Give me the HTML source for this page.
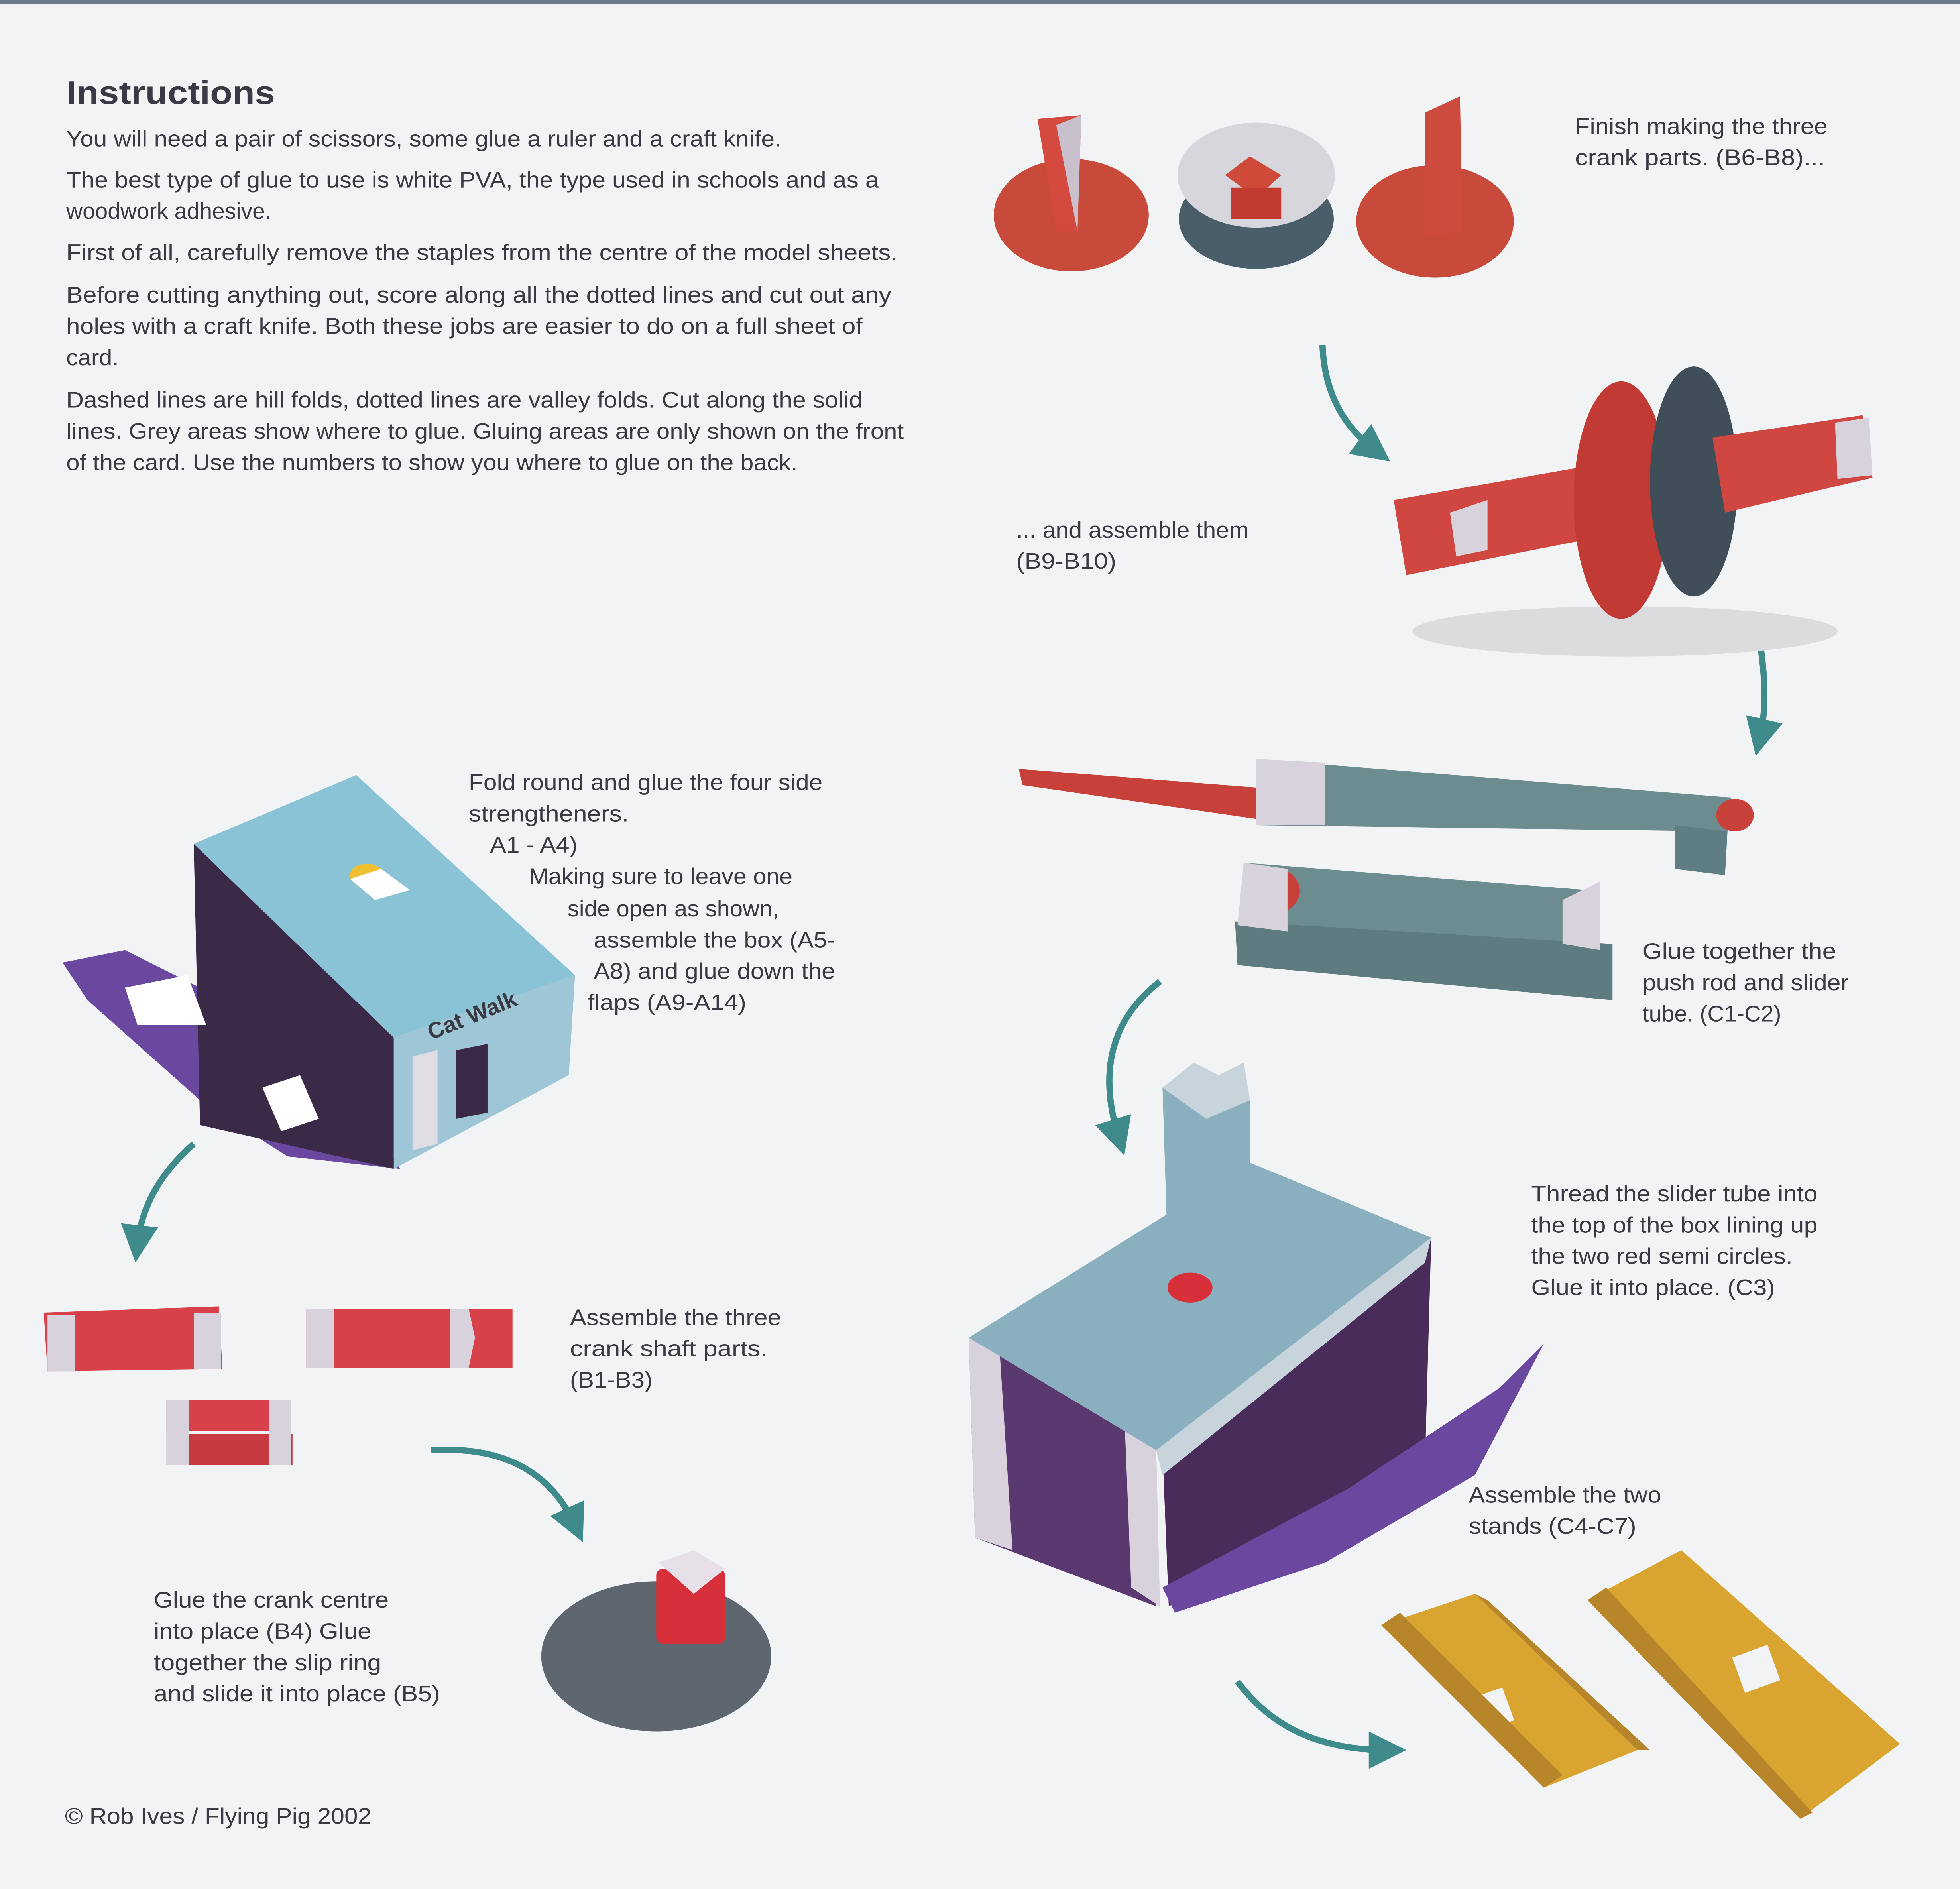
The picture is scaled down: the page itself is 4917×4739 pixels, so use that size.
<!DOCTYPE html>
<html><head><meta charset="utf-8">
<style>
html,body{margin:0;padding:0;background:#f2f3f5;}
svg{display:block}
text{font-family:"Liberation Sans",sans-serif;fill:#3a3a44;}
</style></head>
<body>
<svg width="4917" height="4739" viewBox="0 0 1568 1511" xmlns="http://www.w3.org/2000/svg">
<defs>
<marker id="ah" markerWidth="6" markerHeight="6" refX="3" refY="3" orient="auto" markerUnits="strokeWidth">
<path d="M0,0 L6,3 L0,6 Z" fill="#3f8b8c"/></marker>
</defs>
<rect width="1568" height="1511" fill="#f2f3f5"/>
<rect x="0" y="0" width="1568" height="3" fill="#6b7a8a"/>

<text x="53" y="83" font-size="26" font-weight="bold" fill="#2a2a30" textLength="167" lengthAdjust="spacingAndGlyphs">Instructions</text>
<g font-size="18" lengthAdjust="spacingAndGlyphs">
<text x="53" y="117" textLength="572" lengthAdjust="spacingAndGlyphs">You will need a pair of scissors, some glue a ruler and a craft knife.</text>
<text x="53" y="150" textLength="650" lengthAdjust="spacingAndGlyphs">The best type of glue to use is white PVA, the type used in schools and as a</text>
<text x="53" y="175" textLength="164" lengthAdjust="spacingAndGlyphs">woodwork adhesive.</text>
<text x="53" y="208" textLength="665" lengthAdjust="spacingAndGlyphs">First of all, carefully remove the staples from the centre of the model sheets.</text>
<text x="53" y="242" textLength="660" lengthAdjust="spacingAndGlyphs">Before cutting anything out, score along all the dotted lines and cut out any</text>
<text x="53" y="267" textLength="637" lengthAdjust="spacingAndGlyphs">holes with a craft knife. Both these jobs are easier to do on a full sheet of</text>
<text x="53" y="292" textLength="42" lengthAdjust="spacingAndGlyphs">card.</text>
<text x="53" y="326" textLength="637" lengthAdjust="spacingAndGlyphs">Dashed lines are hill folds, dotted lines are valley folds. Cut along the solid</text>
<text x="53" y="351" textLength="670" lengthAdjust="spacingAndGlyphs">lines. Grey areas show where to glue. Gluing areas are only shown on the front</text>
<text x="53" y="376" textLength="585" lengthAdjust="spacingAndGlyphs">of the card. Use the numbers to show you where to glue on the back.</text>

<text x="1260" y="107" textLength="202" lengthAdjust="spacingAndGlyphs">Finish making the three</text>
<text x="1260" y="132" textLength="200" lengthAdjust="spacingAndGlyphs">crank parts. (B6-B8)...</text>
<text x="813" y="430" textLength="186" lengthAdjust="spacingAndGlyphs">... and assemble them</text>
<text x="813" y="455" textLength="80" lengthAdjust="spacingAndGlyphs">(B9-B10)</text>
<text x="375" y="632" textLength="283" lengthAdjust="spacingAndGlyphs">Fold round and glue the four side</text>
<text x="375" y="657" textLength="128" lengthAdjust="spacingAndGlyphs">strengtheners.</text>
<text x="392" y="682" textLength="70" lengthAdjust="spacingAndGlyphs">A1 - A4)</text>
<text x="423" y="707" textLength="211" lengthAdjust="spacingAndGlyphs">Making sure to leave one</text>
<text x="454" y="733" textLength="169" lengthAdjust="spacingAndGlyphs">side open as shown,</text>
<text x="475" y="758" textLength="193" lengthAdjust="spacingAndGlyphs">assemble the box (A5-</text>
<text x="475" y="783" textLength="193" lengthAdjust="spacingAndGlyphs">A8) and glue down the</text>
<text x="470" y="808" textLength="127" lengthAdjust="spacingAndGlyphs">flaps (A9-A14)</text>
<text x="1314" y="767" textLength="155" lengthAdjust="spacingAndGlyphs">Glue together the</text>
<text x="1314" y="792" textLength="165" lengthAdjust="spacingAndGlyphs">push rod and slider</text>
<text x="1314" y="817" textLength="111" lengthAdjust="spacingAndGlyphs">tube. (C1-C2)</text>
<text x="1225" y="961" textLength="229" lengthAdjust="spacingAndGlyphs">Thread the slider tube into</text>
<text x="1225" y="986" textLength="229" lengthAdjust="spacingAndGlyphs">the top of the box lining up</text>
<text x="1225" y="1011" textLength="209" lengthAdjust="spacingAndGlyphs">the two red semi circles.</text>
<text x="1225" y="1036" textLength="195" lengthAdjust="spacingAndGlyphs">Glue it into place. (C3)</text>
<text x="456" y="1060" textLength="169" lengthAdjust="spacingAndGlyphs">Assemble the three</text>
<text x="456" y="1085" textLength="158" lengthAdjust="spacingAndGlyphs">crank shaft parts.</text>
<text x="456" y="1110" textLength="66" lengthAdjust="spacingAndGlyphs">(B1-B3)</text>
<text x="1175" y="1202" textLength="154" lengthAdjust="spacingAndGlyphs">Assemble the two</text>
<text x="1175" y="1227" textLength="134" lengthAdjust="spacingAndGlyphs">stands (C4-C7)</text>
<text x="123" y="1286" textLength="188" lengthAdjust="spacingAndGlyphs">Glue the crank centre</text>
<text x="123" y="1311" textLength="174" lengthAdjust="spacingAndGlyphs">into place (B4) Glue</text>
<text x="123" y="1336" textLength="182" lengthAdjust="spacingAndGlyphs">together the slip ring</text>
<text x="123" y="1361" textLength="229" lengthAdjust="spacingAndGlyphs">and slide it into place (B5)</text>
<text x="52" y="1459" textLength="245" lengthAdjust="spacingAndGlyphs">© Rob Ives / Flying Pig 2002</text>
</g>

<g fill="none" stroke="#3f8b8c" stroke-width="5" marker-end="url(#ah)">
<path d="M1058,276 Q1060,330 1100,360"/>
<path d="M1408,514 Q1415,560 1408,590"/>
<path d="M928,785 Q870,830 895,910"/>
<path d="M155,915 Q115,950 110,995"/>
<path d="M345,1160 Q430,1155 460,1220"/>
<path d="M990,1345 Q1030,1400 1110,1400"/>
</g>

<ellipse cx="857" cy="172" rx="62" ry="45" fill="#c84a3a"/>
<polygon points="830,95 865,92 862,185 845,185" fill="#d44a3e"/>
<polygon points="845,100 865,92 862,185" fill="#c8c0cc"/>
<ellipse cx="1005" cy="175" rx="62" ry="40" fill="#4a5e6a"/>
<ellipse cx="1005" cy="140" rx="63" ry="42" fill="#d6d6dc"/>
<polygon points="980,140 1000,125 1025,140 1005,158" fill="#d04a3a"/>
<rect x="985" y="150" width="40" height="25" fill="#c33a30"/>
<ellipse cx="1148" cy="177" rx="63" ry="45" fill="#c84a3a"/>
<polygon points="1140,90 1168,77 1170,185 1140,190" fill="#cc4a3e"/>

<ellipse cx="1300" cy="505" rx="170" ry="20" fill="#dcdcde"/>
<polygon points="1115,400 1370,355 1378,410 1125,460" fill="#d04640"/>
<ellipse cx="1297" cy="400" rx="38" ry="95" fill="#c13a34"/>
<ellipse cx="1355" cy="385" rx="35" ry="92" fill="#3f4e58"/>
<polygon points="1370,350 1490,332 1498,382 1380,410" fill="#d04640"/>
<polygon points="1468,338 1495,334 1498,380 1470,383" fill="#d8d2dc"/>
<polygon points="1160,410 1190,400 1190,440 1165,445" fill="#d8d2dc"/>

<polygon points="815,615 1005,630 1005,655 818,628" fill="#c8403a"/>
<polygon points="1005,607 1385,638 1382,665 1005,660" fill="#6d8c90"/>
<polygon points="1005,607 1060,610 1060,660 1005,660" fill="#d8d2dc"/>
<polygon points="1340,660 1382,665 1380,700 1340,695" fill="#5f7e82"/>
<ellipse cx="1388" cy="652" rx="15" ry="13" fill="#c8403a"/>
<polygon points="995,690 1270,712 1275,760 990,745" fill="#6d8c90"/>
<polygon points="988,737 1290,755 1290,800 990,772" fill="#5e7c80"/>
<polygon points="995,690 1030,695 1030,745 990,740" fill="#d8d2dc"/>
<path d="M1030,697 A20,18 0 0,1 1030,728 Z" fill="#c8403a"/>
<polygon points="1250,720 1280,705 1280,760 1250,755" fill="#d8d2dc"/>

<polygon points="50,770 100,760 180,800 300,900 320,935 230,925 160,880 70,800" fill="#6a48a0"/>
<polygon points="155,675 285,620 460,780 315,830" fill="#8bc3d6"/>
<polygon points="155,675 315,830 315,935 160,900" fill="#3a2a48"/>
<polygon points="315,830 460,780 455,860 315,935" fill="#9fc6d6"/>
<polygon points="330,845 350,840 350,915 330,920" fill="#e0dce4"/>
<polygon points="365,840 390,835 390,890 365,895" fill="#3a2a48"/>
<text x="345" y="832" font-size="18" font-weight="bold" fill="#c8403a" transform="rotate(-22 345 832)">Cat Walk</text>
<polygon points="280,703 305,695 328,712 300,720" fill="#ffffff"/>
<path d="M280,703 A14,10 0 0,1 305,695 Z" fill="#f0c030"/>
<polygon points="210,870 240,860 255,895 225,905" fill="#ffffff"/>
<polygon points="100,790 150,780 165,820 110,820" fill="#ffffff"/>

<polygon points="35,1050 175,1045 178,1095 38,1097" fill="#d8404a"/>
<rect x="38" y="1052" width="22" height="45" fill="#d8d2dc"/>
<rect x="155" y="1050" width="22" height="45" fill="#d8d2dc"/>
<rect x="245" y="1047" width="165" height="47" fill="#d8404a"/>
<rect x="245" y="1047" width="22" height="47" fill="#d8d2dc"/>
<polygon points="360,1047 375,1047 380,1070 375,1094 360,1094" fill="#d8d2dc"/>
<rect x="133" y="1120" width="98" height="25" fill="#d8404a"/>
<rect x="136" y="1147" width="98" height="25" fill="#c63a40"/>
<rect x="133" y="1120" width="18" height="52" fill="#d8d2dc"/>
<rect x="215" y="1120" width="18" height="52" fill="#d8d2dc"/>

<ellipse cx="525" cy="1325" rx="92" ry="60" fill="#5e6670"/>
<rect x="525" y="1255" width="55" height="60" rx="5" fill="#d8303a"/>
<polygon points="527,1250 555,1240 580,1255 555,1275" fill="#e8e0e8"/>

<polygon points="775,1070 1000,930 1145,990 925,1160" fill="#8ab0c0"/>
<polygon points="930,1160 1145,990 1140,1170 935,1285" fill="#4a2c5a"/>
<polygon points="775,1070 925,1160 925,1285 780,1230" fill="#5a3870"/>
<polygon points="775,1070 800,1085 810,1240 780,1230" fill="#d8d2dc"/>
<polygon points="900,1145 925,1160 928,1285 905,1270" fill="#d8d2dc"/>
<polygon points="925,1160 1145,990 1140,1010 930,1180" fill="#c8d4dc"/>
<polygon points="930,1270 1080,1190 1200,1110 1235,1075 1180,1180 1060,1250 940,1290" fill="#6a48a0"/>
<polygon points="930,870 960,860 1000,880 1000,1030 965,1040 935,1030" fill="#8ab0c0"/>
<polygon points="930,870 955,850 975,860 995,850 1000,880 965,895" fill="#c8d4dc"/>
<ellipse cx="952" cy="1030" rx="18" ry="12" fill="#d8303a"/>

<polygon points="1105,1300 1180,1275 1310,1400 1235,1430" fill="#d9a430"/>
<rect x="1170" y="1355" width="38" height="28" fill="#f2f3f5" transform="rotate(-20 1190 1370)"/>
<polygon points="1105,1300 1120,1290 1250,1420 1235,1430" fill="#b8862a"/>
<polygon points="1180,1275 1190,1280 1320,1400 1310,1400" fill="#b8862a"/>
<polygon points="1270,1280 1345,1240 1520,1395 1440,1455" fill="#d9a430"/>
<polygon points="1270,1280 1285,1270 1450,1450 1440,1455" fill="#b8862a"/>
<rect x="1390" y="1320" width="30" height="30" fill="#f2f3f5" transform="rotate(-20 1405 1335)"/>
</svg>
</body></html>
